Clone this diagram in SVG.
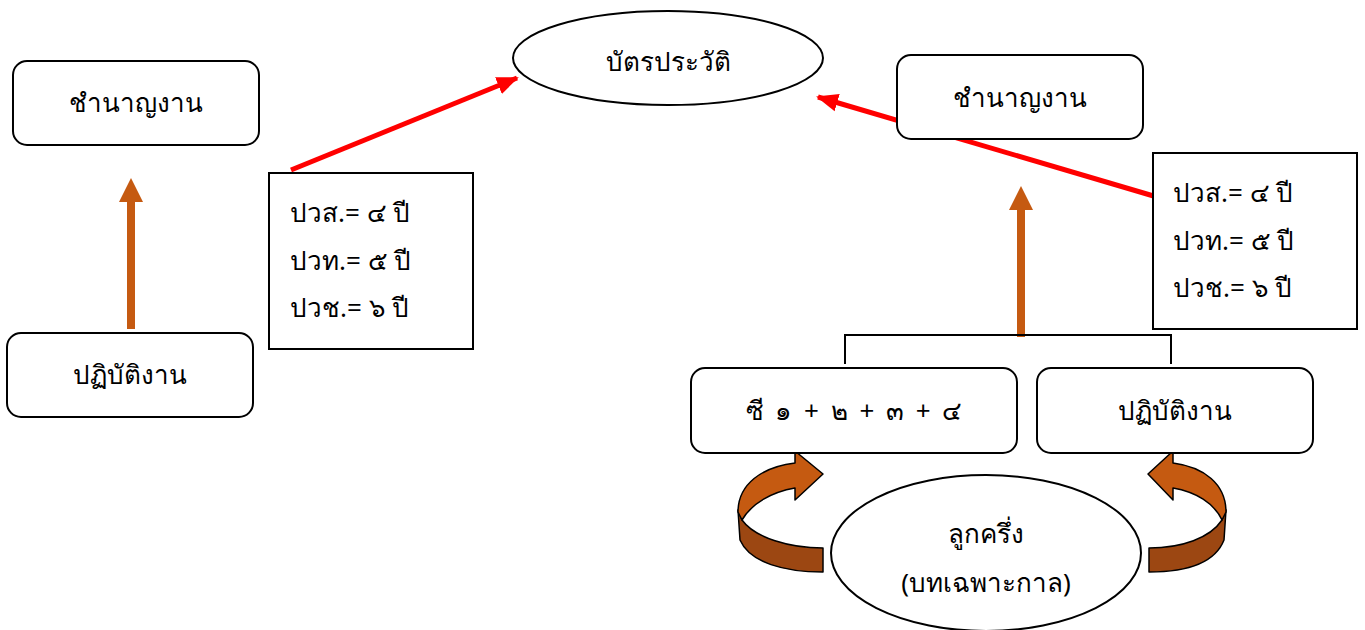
<svg xmlns="http://www.w3.org/2000/svg" width="1365" height="630" viewBox="0 0 1365 630">
  <style>
    .box { fill: #ffffff; stroke: #000000; stroke-width: 2; }
    .t { font-family: "Noto Sans", "DejaVu Sans", sans-serif; font-size: 26px; fill: #000000; }
    .c { text-anchor: middle; }
    .red { stroke: #ff0000; stroke-width: 5; fill: none; }
    .org { fill: #c55a11; }
    .orgd { fill: #9c4712; stroke: #000; stroke-width: 1.5; stroke-linejoin: round; }
    .orgl { fill: #c55a11; stroke: #000; stroke-width: 1.5; stroke-linejoin: round; }
    .ln { stroke: #000; stroke-width: 2; fill: none; }
  </style>
  <defs>
    <marker id="redhead" markerWidth="24" markerHeight="20" refX="20" refY="10" orient="auto" markerUnits="userSpaceOnUse">
      <path d="M0,1 L22,10 L0,19 Z" fill="#ff0000"/>
    </marker>
  </defs>
  <rect width="1365" height="630" fill="#ffffff"/>

  <g id="connectors">
    <line class="red" x1="291" y1="170" x2="517" y2="78" marker-end="url(#redhead)"/>
    <line class="red" x1="1157" y1="197" x2="818" y2="97" marker-end="url(#redhead)"/>
    <g id="arrow-left-up">
      <rect class="org" x="127" y="200" width="8" height="129"/>
      <path class="org" d="M131,178 L143,202 L119,202 Z"/>
    </g>
    <g id="arrow-right-up">
      <rect class="org" x="1017" y="208" width="8" height="129"/>
      <path class="org" d="M1021,186 L1033,210 L1009,210 Z"/>
    </g>
    <path class="ln" d="M845,364 V335 H1171 V364"/>
    <g id="curved-left">
      <path class="orgd" d="M742,520 C755,538 790,548 823,548 L823,572 C785,572 750,563 740,540 L738,510 Z"/>
      <path class="orgl" d="M738,512 C738,484 762,467 795,463 L795,451 L823,474 L795,500 L795,488 C772,492 752,503 742,520 Z"/>
    </g>
    <g id="curved-right">
      <path class="orgd" d="M1222,520 C1210,538 1182,548 1149,548 L1149,572 C1187,572 1215,563 1224,540 L1226,510 Z"/>
      <path class="orgl" d="M1226,512 C1226,484 1204,467 1173,463 L1173,451 L1148,474 L1173,500 L1173,488 C1196,492 1214,503 1222,520 Z"/>
    </g>
  </g>

  <g id="node-profile">
    <ellipse class="box" cx="668" cy="58" rx="155" ry="47"/>
    <text class="t c" x="668" y="71">บัตรประวัติ</text>
  </g>

  <g id="node-expert-left">
    <rect class="box" x="13" y="61" width="246" height="84" rx="14"/>
    <text class="t c" x="136" y="112">ชำนาญงาน</text>
  </g>

  <g id="node-practice-left">
    <rect class="box" x="7" y="333" width="246" height="84" rx="14"/>
    <text class="t c" x="130" y="384">ปฏิบัติงาน</text>
  </g>

  <g id="node-years-left">
    <rect class="box" x="269" y="173" width="204" height="176"/>
    <text class="t" x="290" y="222">ปวส.= ๔ ปี</text>
    <text class="t" x="290" y="270">ปวท.= ๕ ปี</text>
    <text class="t" x="290" y="317">ปวช.= ๖ ปี</text>
  </g>

  <g id="node-expert-right">
    <rect class="box" x="897" y="55" width="246" height="84" rx="14"/>
    <text class="t c" x="1020" y="107">ชำนาญงาน</text>
  </g>

  <g id="node-years-right">
    <rect class="box" x="1153" y="153" width="204" height="176"/>
    <text class="t" x="1173" y="202">ปวส.= ๔ ปี</text>
    <text class="t" x="1173" y="250">ปวท.= ๕ ปี</text>
    <text class="t" x="1173" y="297">ปวช.= ๖ ปี</text>
  </g>

  <g id="node-c-levels">
    <rect class="box" x="691" y="368" width="326" height="85" rx="14"/>
    <text class="t c" x="854" y="420" word-spacing="5">ซี ๑ + ๒ + ๓ + ๔</text>
  </g>

  <g id="node-practice-right">
    <rect class="box" x="1037" y="368" width="276" height="85" rx="14"/>
    <text class="t c" x="1175" y="420">ปฏิบัติงาน</text>
  </g>

  <g id="node-hybrid">
    <ellipse class="box" cx="986" cy="553" rx="155" ry="78"/>
    <text class="t c" x="986" y="543">ลูกครึ่ง</text>
    <text class="t c" x="986" y="592">(บทเฉพาะกาล)</text>
  </g>
</svg>
